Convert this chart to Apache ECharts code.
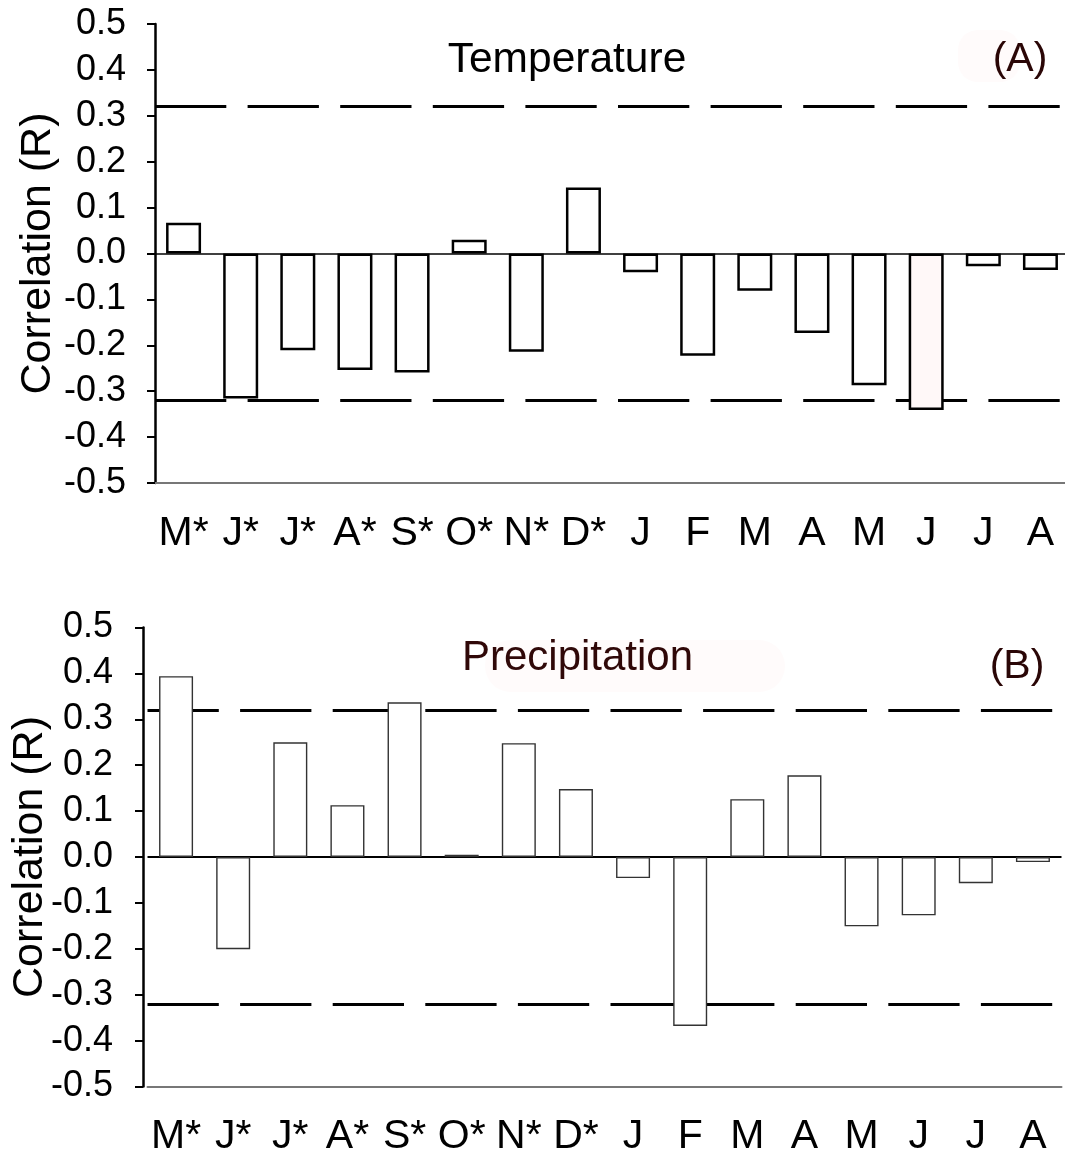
<!DOCTYPE html>
<html>
<head>
<meta charset="utf-8">
<script src="https://cdn.jsdelivr.net/npm/echarts@6/dist/echarts.min.js"></script>
<style>
  html, body { margin: 0; padding: 0; background: #fff; }
  #chart { width: 1065px; height: 1162px; }
</style>
</head>
<body>
<div id="chart"></div>
<script>
// Monthly climate–growth correlations (previous-year months marked with *)
const months = ['M*', 'J*', 'J*', 'A*', 'S*', 'O*', 'N*', 'D*', 'J', 'F', 'M', 'A', 'M', 'J', 'J', 'A'];
const temperatureR = [0.067, -0.316, -0.211, -0.254, -0.259, 0.030, -0.214, 0.144,
                      -0.041, -0.223, -0.081, -0.173, -0.287, -0.341, -0.028, -0.036];
const precipitationR = [0.394, -0.201, 0.250, 0.113, 0.337, 0.005, 0.248, 0.148,
                        -0.046, -0.368, 0.126, 0.178, -0.151, -0.127, -0.057, -0.011];
// 95% significance level of the correlation coefficient
const significance = 0.32;
const yTicks = [-0.5, -0.4, -0.3, -0.2, -0.1, 0.0, 0.1, 0.2, 0.3, 0.4, 0.5];

const FONT = '"Liberation Sans", Arial, Helvetica, sans-serif';
const chart = echarts.init(document.getElementById('chart'), null, { renderer: 'canvas' });

function xAxisFor(gridIndex) {
  return {
    type: 'category',
    gridIndex: gridIndex,
    data: months,
    boundaryGap: true,
    axisLine: { onZero: false, lineStyle: { color: '#777', width: 2 } },
    axisTick: { alignWithLabel: true, length: 9, lineStyle: { color: '#000', width: 2 } },
    axisLabel: { interval: 0, fontFamily: FONT, fontSize: 41, color: '#000', margin: 30 },
    splitLine: { show: false }
  };
}

function yAxisFor(gridIndex, offset, margin, nameGap) {
  return {
    type: 'value',
    gridIndex: gridIndex,
    min: yTicks[0],
    max: yTicks[yTicks.length - 1],
    interval: 0.1,
    offset: offset,
    name: 'Correlation (R)',
    nameLocation: 'middle',
    nameGap: nameGap,
    nameMoveOverlap: false,
    nameTextStyle: { fontFamily: FONT, fontSize: 43, color: '#000' },
    axisLine: { show: true, lineStyle: { color: '#000', width: 2.5 } },
    axisTick: { show: true, length: 8, lineStyle: { color: '#000', width: 2 } },
    axisLabel: {
      fontFamily: FONT, fontSize: 36, color: '#000', margin: margin,
      formatter: v => v.toFixed(1)
    },
    splitLine: { show: false }
  };
}

function referenceLines(zeroWidth) {
  return {
    silent: true,
    symbol: 'none',
    z: 1,
    label: { show: false },
    data: [
      { yAxis: significance, lineStyle: { type: [71.3, 21.3], width: 3, color: '#000' } },
      { yAxis: -significance, lineStyle: { type: [71.3, 21.3], width: 3, color: '#000' } },
      { yAxis: 0, lineStyle: { type: 'solid', width: zeroWidth, color: '#000' } }
    ]
  };
}

const option = {
  animation: false,
  backgroundColor: '#fff',
  grid: [
    { left: 155, top: 24, width: 914, height: 459, containLabel: false, outerBoundsMode: 'none' },
    { left: 147.5, top: 627.5, width: 914, height: 459, containLabel: false, outerBoundsMode: 'none' }
  ],
  xAxis: [xAxisFor(0), xAxisFor(1)],
  yAxis: [yAxisFor(0, 0, 29, 95), yAxisFor(1, 4.5, 30, 91)],
  series: [
    {
      name: 'Temperature',
      type: 'bar',
      xAxisIndex: 0, yAxisIndex: 0,
      barWidth: 35,
      z: 2,
      data: temperatureR.map((v, i) => i === 13
        ? { value: v, itemStyle: { color: '#fff8f8' } }
        : v),
      itemStyle: { color: '#fff', borderColor: '#000', borderWidth: 2.5 },
      markLine: referenceLines(1.5)
    },
    {
      name: 'Precipitation',
      type: 'bar',
      xAxisIndex: 1, yAxisIndex: 1,
      barWidth: 34,
      z: 2,
      data: precipitationR,
      itemStyle: { color: '#fff', borderColor: '#333', borderWidth: 1.4 },
      markLine: referenceLines(2)
    }
  ],
  graphic: [
    // faint smudges behind the panel captions
    { type: 'rect', z: 0, shape: { x: 958, y: 30, width: 62, height: 52, r: 20 },
      style: { fill: '#fffbfb' } },
    { type: 'rect', z: 0, shape: { x: 485, y: 640, width: 300, height: 52, r: 26 },
      style: { fill: '#fffbfb' } },
    { type: 'text', z: 10, x: 567, y: 60,
      style: { text: 'Temperature', font: '42.5px ' + FONT, fill: '#000',
               align: 'center', verticalAlign: 'middle' } },
    { type: 'text', z: 10, x: 1020, y: 60,
      style: { text: '(A)', font: '41px ' + FONT, fill: '#2a0606',
               align: 'center', verticalAlign: 'middle' } },
    { type: 'text', z: 10, x: 577.5, y: 658,
      style: { text: 'Precipitation', font: '42px ' + FONT, fill: '#300808',
               align: 'center', verticalAlign: 'middle' } },
    { type: 'text', z: 10, x: 1017, y: 667,
      style: { text: '(B)', font: '41px ' + FONT, fill: '#2a0606',
               align: 'center', verticalAlign: 'middle' } }
  ]
};

chart.setOption(option);
</script>
</body>
</html>
